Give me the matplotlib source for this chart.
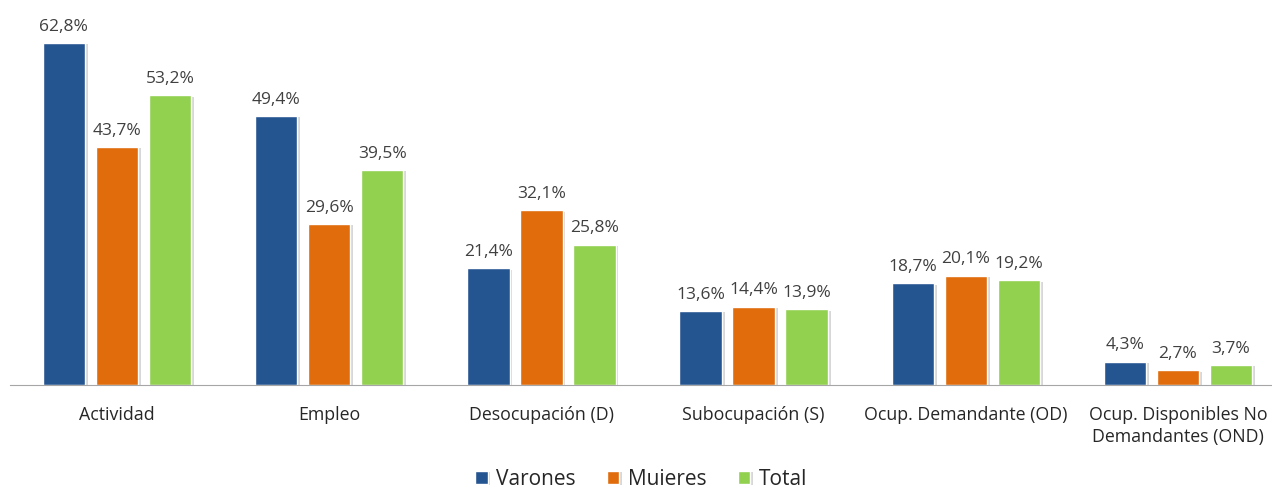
import numpy as np
import matplotlib
matplotlib.use("Agg")
import matplotlib.pyplot as plt
import matplotlib.patheffects as path_effects

plt.rcParams['font.family'] = ['Open Sans', 'DejaVu Sans']

categorias = ['Actividad', 'Empleo', 'Desocupación (D)', 'Subocupación (S)',
              'Ocup. Demandante (OD)', 'Ocup. Disponibles No\nDemandantes (OND)']
varones = [62.8, 49.4, 21.4, 13.6, 18.7, 4.3]
mujeres = [43.7, 29.6, 32.1, 14.4, 20.1, 2.7]
total = [53.2, 39.5, 25.8, 13.9, 19.2, 3.7]

series = [('Varones', varones, '#255591'),
          ('Muieres', mujeres, '#E06C0C'),
          ('Total', total, '#92D050')]

fig = plt.figure(figsize=(12.72, 4.9), dpi=100)
ax = fig.add_axes([10 / 1272, 105 / 490, 1262 / 1272, 385 / 490])

x = np.arange(len(categorias))
ancho = 0.2
paso = 0.25
sombra = [path_effects.SimplePatchShadow(offset=(2, -1), shadow_rgbFace='#B0B0B0', alpha=0.5),
          path_effects.Normal()]

for i, (nombre, valores, color) in enumerate(series):
    pos = x + (i - 1) * paso
    barras = ax.bar(pos, valores, width=ancho, color=color, edgecolor='white',
                    linewidth=1, label=nombre, zorder=2)
    for b in barras:
        b.set_path_effects(sombra)
    for px, v in zip(pos, valores):
        ax.text(px, v + 1.5, '{:.1f}%'.format(v).replace('.', ','), ha='center',
                va='bottom', fontsize=12.5, color='#404040')

ax.set_xlim(-0.504, 5.443)
ax.set_ylim(0, 70.7)
ax.set_xticks(x)
ax.set_xticklabels(categorias, fontsize=12.8, color='#262626', linespacing=1.3)
ax.tick_params(axis='x', length=0, pad=15)
ax.set_yticks([])
for s in ['top', 'right', 'left']:
    ax.spines[s].set_visible(False)
ax.spines['bottom'].set_color('#A6A6A6')

ax.legend(loc='lower center', bbox_to_anchor=(0.5, -105 / 385 - 0.026), ncol=3,
          frameon=False, fontsize=15, handlelength=0.6, handleheight=0.6,
          handletextpad=0.4, columnspacing=1.5, labelcolor='#262626',
          borderaxespad=0.1)

fig.savefig('out.png', dpi=100)
